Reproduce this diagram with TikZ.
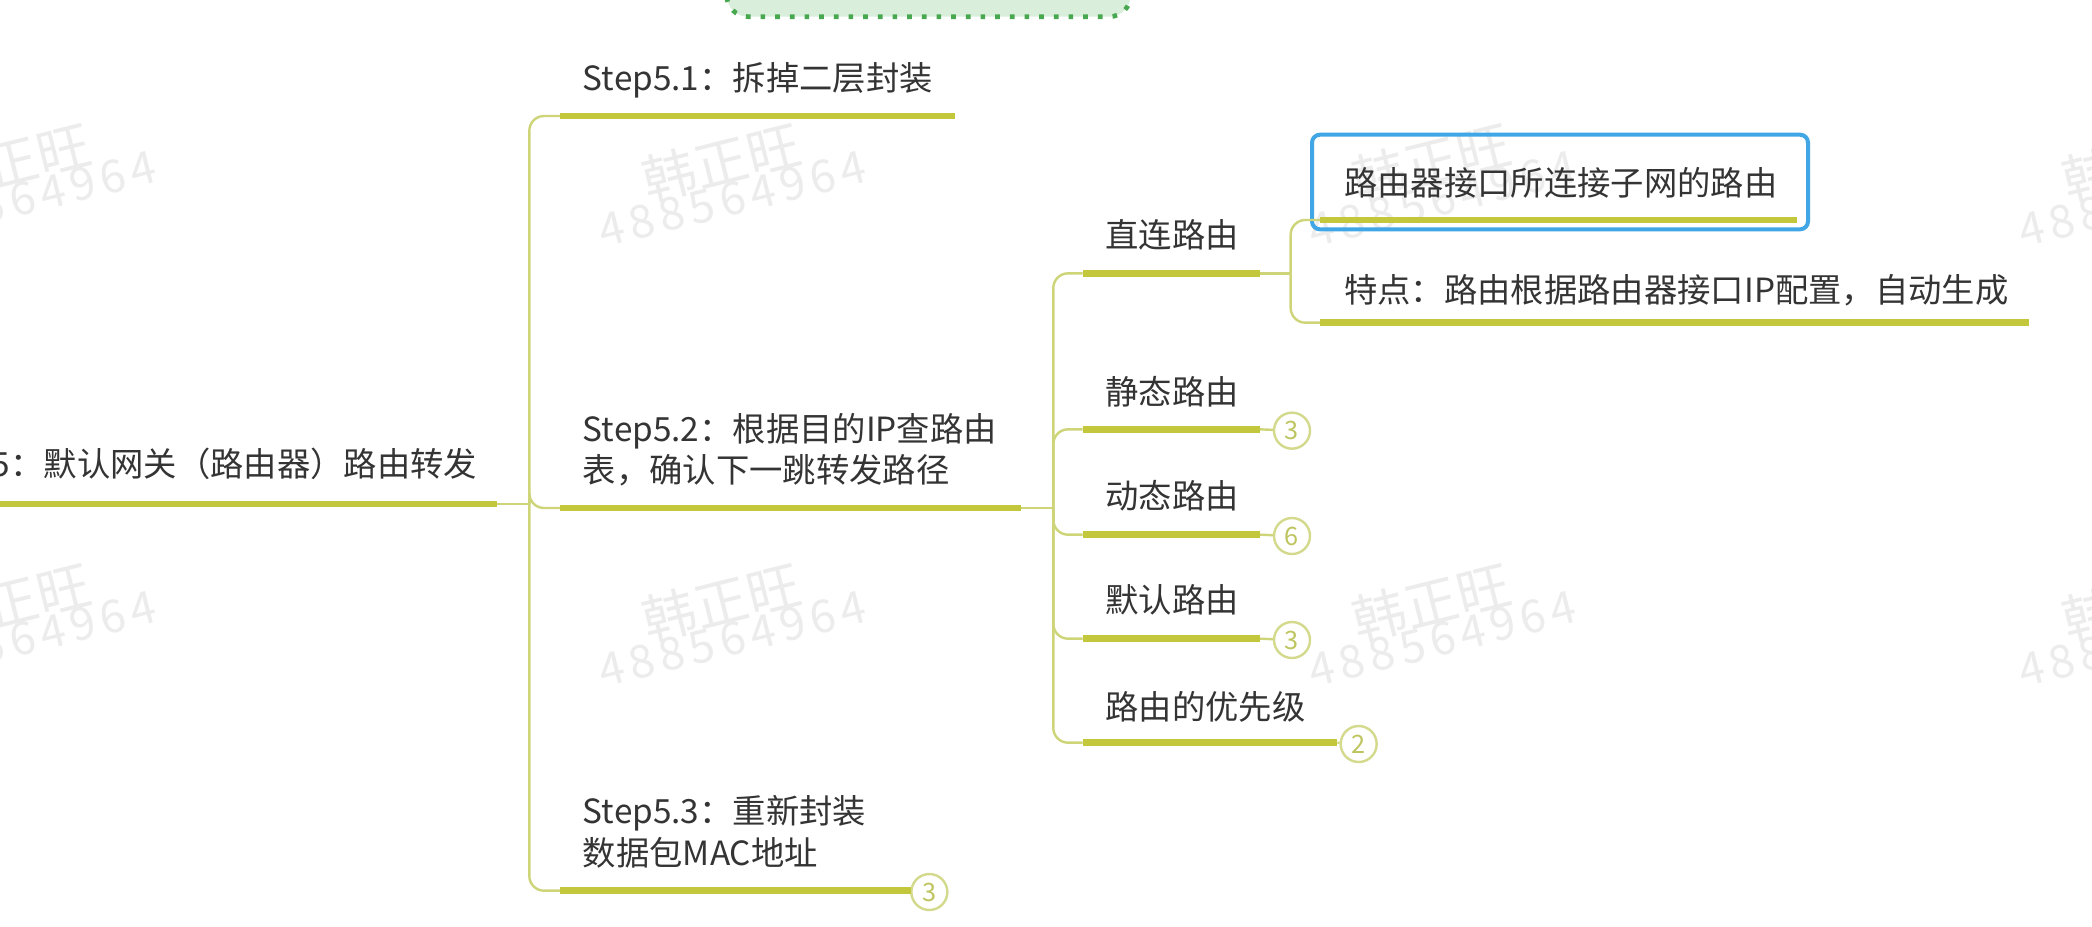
\documentclass[tikz,border=0pt]{standalone}
\usepackage{fontspec}
\setmainfont{Noto Sans CJK SC}
\newfontfamily\wmfont[LetterSpace=13]{Noto Sans CJK SC}
\definecolor{ulcol}{RGB}{194,199,60}
\definecolor{conncol}{RGB}{206,212,120}
\definecolor{txt}{RGB}{52,52,52}
\definecolor{badgeline}{RGB}{212,218,140}
\definecolor{badgetxt}{RGB}{190,197,95}
\definecolor{wmcol}{RGB}{236,236,236}
\definecolor{boxfill}{RGB}{218,238,220}
\definecolor{boxline}{RGB}{72,168,80}
\definecolor{selcol}{RGB}{64,166,230}
\begin{document}
\begin{tikzpicture}[x=1pt,y=-1pt,
  ul/.style={line width=5pt, draw=ulcol, line cap=butt},
  conn/.style={line width=1.8pt, draw=conncol},
  rconn/.style={conn, rounded corners=11pt},
  topic/.style={anchor=base west, inner sep=0pt, text=txt, font=\fontsize{25}{31}\selectfont},
  badge/.style={circle, draw=badgeline, line width=1.8pt, fill=white, minimum size=27pt, inner sep=0pt, text=badgetxt, font=\fontsize{19}{19}\selectfont},
  wm/.style={anchor=base west, inner sep=0pt, text=wmcol, rotate=14},
]
\useasboundingbox[fill=white] (0,0) rectangle (1569,694.5);

% watermarks
\foreach \X [count=\i] in {-80,452.5,985,1517.5} {
  \foreach \Y [count=\j] in {186,516} {
    \node[wm, font=\wmfont\fontsize{34}{34}\selectfont] (wmd\i\j) at (\X,\Y) {488564964};
    \node[wm, font=\fontsize{40}{40}\selectfont] (wmc\i\j) at (\X+34,\Y-35) {韩正旺};
  }
}

% top (cut-off) box
\draw[fill=boxfill, draw=boxline, line width=3.5pt, dash pattern=on 3.5pt off 7.5pt, rounded corners=16pt] (545,-40) rectangle (848,12.5);

% trunk x positions
\coordinate (t1) at (397,0);
\coordinate (t2) at (790,0);
\coordinate (t3) at (968,0);

% underline end points
\coordinate (rootL) at (-5,378);  \coordinate (rootR) at (373,378);
\coordinate (s1L) at (420,87);    \coordinate (s1R) at (716,87);
\coordinate (s2L) at (420,381);   \coordinate (s2R) at (766,381);
\coordinate (s3L) at (420,668);   \coordinate (s3R) at (683,668);
\coordinate (d1L) at (812,205);   \coordinate (d1R) at (945,205);
\coordinate (d2L) at (812,322);   \coordinate (d2R) at (945,322);
\coordinate (d3L) at (812,401);   \coordinate (d3R) at (945,401);
\coordinate (d4L) at (812,479);   \coordinate (d4R) at (945,479);
\coordinate (d5L) at (812,557);   \coordinate (d5R) at (1003,557);
\coordinate (e1L) at (990,165);   \coordinate (e1R) at (1348,165);
\coordinate (e2L) at (990,242);   \coordinate (e2R) at (1522,242);

% selection box
\draw[draw=selcol, line width=3pt, rounded corners=6pt] (984,101) rectangle (1356,172);

% texts
\node[topic, anchor=base east] (root) at (358,357.5) {Step5：默认网关（路由器）路由转发};
\node[topic] (s1) at (437,67.5) {Step5.1：拆掉二层封装};
\node[topic] (s2) at (437,331) {\vtop{\baselineskip=31pt\hbox{Step5.2：根据目的IP查路由}\hbox{表，确认下一跳转发路径}}};
\node[topic] (s3) at (437,617.5) {\vtop{\baselineskip=31.5pt\hbox{Step5.3：重新封装}\hbox{数据包MAC地址}}};
\node[topic] (d1) at (829,185.5) {直连路由};
\node[topic] (d2) at (829,303.5) {静态路由};
\node[topic] (d3) at (829,381.5) {动态路由};
\node[topic] (d4) at (829,459.5) {默认路由};
\node[topic] (d5) at (829,539.5) {路由的优先级};
\node[topic] (e1) at (1008,146.5) {路由器接口所连接子网的路由};
\node[topic] (e2) at (1008,226.5) {特点：路由根据路由器接口IP配置，自动生成};

% connectors
\draw[conn] (rootR) -- (t1 |- rootR);
\foreach \c in {s1,s2,s3} { \draw[rconn] (t1 |- rootR) |- (\c L); }
\draw[conn] (s2R) -- (t2 |- s2R);
\foreach \c in {d1,d2,d3,d4,d5} { \draw[rconn] (t2 |- s2R) |- (\c L); }
\draw[conn] (d1R) -- (t3 |- d1R);
\foreach \c in {e1,e2} { \draw[rconn] (t3 |- d1R) |- (\c L); }

% badges
\node[badge] (b3) at (697,669) {3};
\node[badge] (b2) at (969,323) {3};
\node[badge] (b3d) at (969,402) {6};
\node[badge] (b4) at (969,480) {3};
\node[badge] (b5) at (1019,558) {2};
\draw[conn] (s3R) -- (b3);
\draw[conn] (d2R) -- (b2);
\draw[conn] (d3R) -- (b3d);
\draw[conn] (d4R) -- (b4);
\draw[conn] (d5R) -- (b5);

% underlines
\foreach \c in {root,s1,s2,s3,d1,d2,d3,d4,d5,e1,e2} { \draw[ul] (\c L) -- (\c R); }
\end{tikzpicture}
\end{document}
